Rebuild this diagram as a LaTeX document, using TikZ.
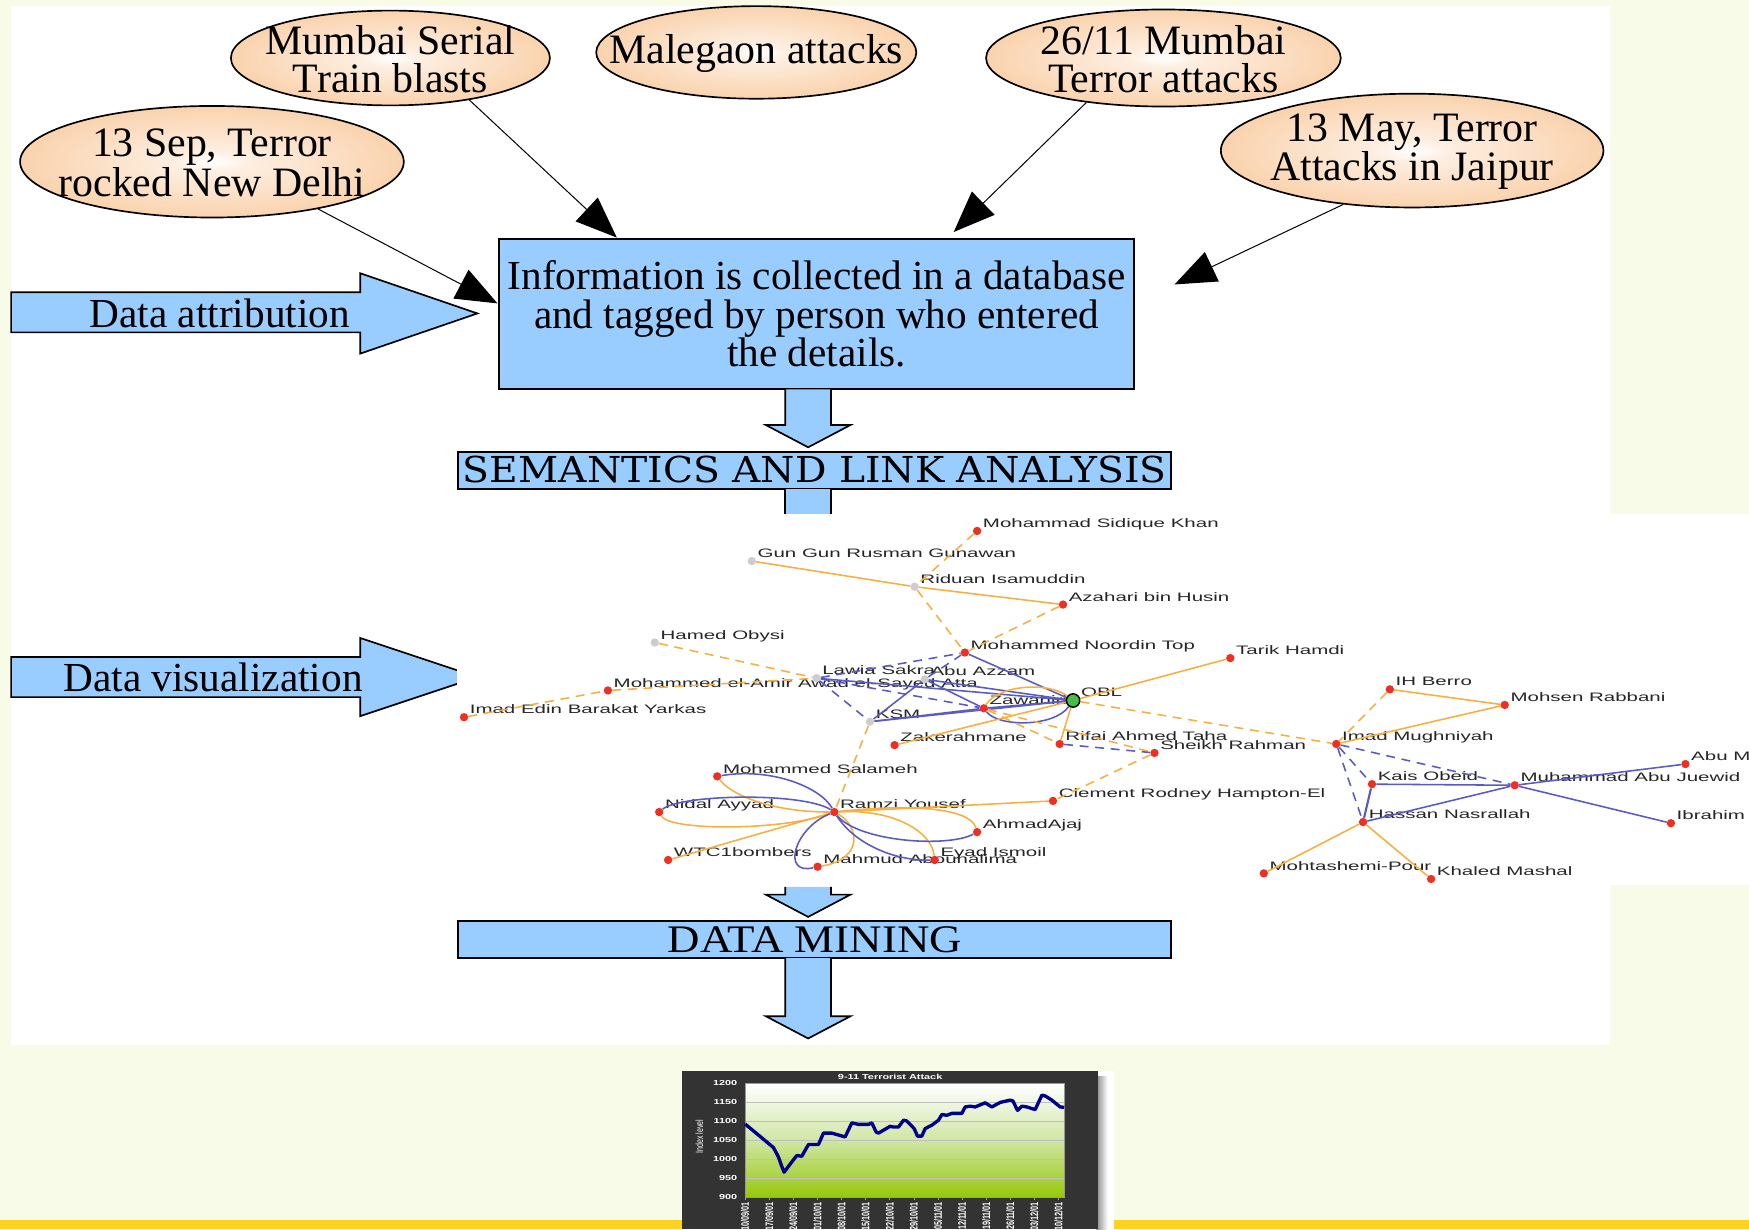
\documentclass[tikz,border=0pt]{standalone}
\usepackage{fontspec}
\usepackage{graphicx}
\setmainfont{Liberation Serif}
\newfontfamily\slabfont[FakeStretch=1.1]{DejaVu Serif}
\newfontfamily\minefont[FakeStretch=1.15]{Liberation Serif}
\newfontfamily\netfont[FakeStretch=1.67]{Liberation Sans}
\newfontfamily\chartfont[FakeStretch=1.5]{Liberation Sans}
\newfontfamily\chartplain{Liberation Sans}
\usetikzlibrary{shapes.geometric,arrows.meta,calc}

\pgfdeclarelayer{edgelayer}
\pgfdeclarelayer{dotlayer}
\pgfsetlayers{main,edgelayer,dotlayer}

\definecolor{cream}{RGB}{248,251,231}
\definecolor{barYellow}{RGB}{255,210,30}
\definecolor{boxblue}{RGB}{153,204,255}
\definecolor{peachedge}{RGB}{243,176,118}
\definecolor{peachmid}{RGB}{250,212,176}
\definecolor{peachlight}{RGB}{253,238,224}
\definecolor{netorange}{RGB}{247,176,64}
\definecolor{netblue}{RGB}{90,90,195}
\definecolor{netred}{RGB}{238,48,36}
\definecolor{netgray}{RGB}{205,205,205}
\definecolor{netgreen}{RGB}{70,190,70}
\definecolor{chartframe}{RGB}{51,51,51}
\definecolor{chartgreen}{RGB}{150,200,10}
\definecolor{chartmid}{RGB}{208,230,165}
\definecolor{chartblue}{RGB}{0,0,140}

\pgfdeclareradialshading{peachball}{\pgfpoint{0bp}{0bp}}{color(0bp)=(white); color(5bp)=(peachlight); color(24bp)=(peachmid); color(44bp)=(peachedge); color(100bp)=(peachedge)}

% downward block arrow: centre x, top y, tip y
\newcommand\blockdown[3]{%
  \fill[boxblue] (#1-20.5,#2) -- (#1+20.5,#2) -- (#1+20.5,#3-20) -- (#1+38,#3-20) -- (#1,#3) -- (#1-38,#3-20) -- (#1-20.5,#3-20) -- cycle;
  \draw[blockline] (#1+20.5,#2) -- (#1+20.5,#3-20) -- (#1+38,#3-20) -- (#1,#3) -- (#1-38,#3-20) -- (#1-20.5,#3-20) -- (#1-20.5,#2);}

% network member: style, name, x, y, label
\newcommand\person[5]{%
  \begin{pgfonlayer}{dotlayer}\node[#1] (#2) at (#3,#4) {};\end{pgfonlayer}
  \node[netlabel] (#2-label) at (#3+5,#4-3) {#5};}

\begin{document}
\begin{tikzpicture}[x=1pt,y=-1pt,
  blockline/.style={draw=black,line width=1.5pt,line join=miter},
  blockarrow/.style={fill=boxblue,draw=black,line width=1.5pt,line join=miter},
  bluebox/.style={rectangle,fill=boxblue,draw=black,line width=1.8pt},
  evell/.style={ellipse,draw=black,line width=1.5pt,shade,shading=peachball,inner sep=0},
  evtext/.style={align=center,inner sep=0,font=\fontsize{37.5}{34}\selectfont},
  bigtext/.style={inner sep=0,font=\fontsize{37}{34}\selectfont},
  evarrow/.style={draw=black,line width=0.9pt,-{Triangle[length=37pt,width=29pt]}},
  oedge/.style={draw=netorange,line width=1.4pt},
  odash/.style={draw=netorange,line width=1.4pt,dash pattern=on 8pt off 6pt},
  bedge/.style={draw=netblue,line width=1.4pt},
  bdash/.style={draw=netblue,line width=1.4pt,dash pattern=on 8pt off 6pt},
  reddot/.style={circle,fill=netred,inner sep=0,minimum size=7.5pt},
  graydot/.style={circle,fill=netgray,inner sep=0,minimum size=7.5pt},
  greendot/.style={circle,fill=netgreen,draw=black,line width=1.3pt,inner sep=0,minimum size=12pt},
  netlabel/.style={anchor=base west,inner sep=0,text=black!85,font=\netfont\fontsize{11}{11}\selectfont},
  charttext/.style={inner sep=0,text=white,font=\chartfont\bfseries\fontsize{6.5}{6.5}\selectfont},
  chartrot/.style={inner sep=0,text=white,font=\chartplain\bfseries\fontsize{6.5}{6.5}\selectfont}]

\useasboundingbox (0,0) rectangle (1568,1102);

% page background, slide bar and white panel
\fill[cream] (0,0) rectangle (1568,1102);
\fill[barYellow] (0,1094) rectangle (1568,1102);
\fill[white] (10,5) rectangle (1443,937);

% incident ellipses
\node[evell,minimum width=286pt,minimum height=85pt]  (e1) at (350,52)  {};
\node[evell,minimum width=287pt,minimum height=83pt]  (e2) at (678,47)  {};
\node[evell,minimum width=318pt,minimum height=87pt]  (e3) at (1043,52) {};
\node[evell,minimum width=344pt,minimum height=100pt] (e4) at (190,145) {};
\node[evell,minimum width=343pt,minimum height=102pt] (e5) at (1266,135) {};
\node[evtext] (e1t) at (350,53)  {Mumbai Serial\\Train blasts};
\node[evtext] (e2t) at (678,48)  {Malegaon attacks};
\node[evtext] (e3t) at (1043,53) {26/11 Mumbai\\Terror attacks};
\node[evtext] (e4t) at (190,146) {13 Sep, Terror\\rocked New Delhi};
\node[evtext] (e5t) at (1266,136) {13 May, Terror\\Attacks in Jaipur};

% collection box
\node[bluebox,minimum width=570pt,minimum height=135pt,inner sep=0,align=center,
      font=\fontsize{37}{34.5}\selectfont] (info) at (732,281.5)
  {Information is collected in a database\\and tagged by person who entered\\the details.};

\coordinate (t1) at (553,213);
\coordinate (t2) at (446,272);
\coordinate (t3) at (855,208);
\coordinate (t4) at (1053,255);
\draw[evarrow] (e1.-28)  -- (t1);
\draw[evarrow] (e4.-24)  -- (t2);
\draw[evarrow] (e3.-150) -- (t3);
\draw[evarrow] (e5.-142) -- (t4);

% data attribution arrow
\draw[blockarrow] (10,262) -- (323,262) -- (323,245) -- (428,281) -- (323,317) -- (323,298) -- (10,298) -- cycle;
\node[bigtext] (attr) at (197,281) {Data attribution};

% flow to link analysis
\blockdown{724.5}{349}{401}
\node[bluebox,minimum width=639pt,minimum height=33pt,inner sep=0,text height=23pt,text depth=0pt,
      font=\slabfont\fontsize{32}{32}\selectfont] (sem) at (730.5,421.5) {SEMANTICS AND LINK ANALYSIS};
\fill[boxblue] (704,438) rectangle (745,461);
\draw[blockline] (704,438) -- (704,461);
\draw[blockline] (745,438) -- (745,461);

% data visualization arrow, partly under the network panel
\draw[blockarrow] (10,589) -- (323,589) -- (323,572) -- (428,607) -- (323,642) -- (323,625) -- (10,625) -- cycle;
\node[bigtext] (vis) at (191,607) {Data visualization};
\fill[white] (410,461) rectangle (1568,793);

% network members
\person{reddot}{sidique}{876}{476}{Mohammad Sidique Khan}
\person{graydot}{gungun}{674}{503}{Gun Gun Rusman Gunawan}
\person{graydot}{riduan}{820}{526}{Riduan Isamuddin}
\person{reddot}{azahari}{953}{542}{Azahari bin Husin}
\person{graydot}{hamed}{587}{576}{Hamed Obysi}
\person{reddot}{noordin}{865}{585}{Mohammed Noordin Top}
\person{reddot}{tarik}{1103}{590}{Tarik Hamdi}
\person{graydot}{lawia}{732}{608}{Lawia Sakra}
\person{graydot}{abuazzam}{829}{609}{Abu Azzam}
\person{reddot}{elamir}{545}{619}{Mohammed el-Amir Awad el-Sayed Atta}
\person{reddot}{imadedin}{416}{643}{Imad Edin Barakat Yarkas}
\person{reddot}{zawahiri}{882}{635}{Zawahiri}
\person{graydot}{ksm}{780}{647}{KSM}
\person{reddot}{zaker}{802}{668}{Zakerahmane}
\person{reddot}{rifai}{950}{667}{Rifai Ahmed Taha}
\person{reddot}{sheikh}{1035}{675}{Sheikh Rahman}
\person{reddot}{imad}{1198}{667}{Imad Mughniyah}
\person{reddot}{ihberro}{1246}{618}{IH Berro}
\person{reddot}{rabbani}{1349}{632}{Mohsen Rabbani}
\person{reddot}{abum}{1511}{685}{Abu M}
\person{reddot}{juewid}{1358}{704}{Muhammad Abu Juewid}
\person{reddot}{kais}{1230}{703}{Kais Obeid}
\person{reddot}{hassan}{1222}{737}{Hassan Nasrallah}
\person{reddot}{ibrahim}{1498}{738}{Ibrahim}
\person{reddot}{mohtashemi}{1133}{783}{Mohtashemi-Pour}
\person{reddot}{khaled}{1283}{788}{Khaled Mashal}
\person{reddot}{clement}{944}{718}{Clement Rodney Hampton-El}
\person{reddot}{salameh}{643}{696}{Mohammed Salameh}
\person{reddot}{nidal}{591}{728}{Nidal Ayyad}
\person{reddot}{ramzi}{748}{728}{Ramzi Yousef}
\person{reddot}{ajaj}{876}{746}{AhmadAjaj}
\person{reddot}{wtc}{599}{771}{WTC1bombers}
\person{reddot}{mahmud}{733}{777}{Mahmud Abouhalima}
\person{reddot}{eyad}{838}{771}{Eyad Ismoil}
\begin{pgfonlayer}{dotlayer}\node[greendot] (obl) at (962,628) {};\end{pgfonlayer}
\node[netlabel] (obl-label) at (969,624) {OBL};

% network links
\begin{pgfonlayer}{edgelayer}
\draw[oedge] (gungun) -- (riduan);
\draw[oedge] (riduan) -- (azahari);
\draw[odash] (sidique) -- (riduan);
\draw[odash] (riduan) -- (noordin);
\draw[odash] (azahari) -- (noordin);
\draw[odash] (hamed) -- (lawia);
\draw[odash] (imadedin) -- (elamir);
\draw[odash] (elamir) -- (lawia);
\draw[bdash] (lawia) -- (noordin);
\draw[bdash] (abuazzam) -- (noordin);
\draw[bdash] (lawia) -- (ksm);
\draw[bdash] (lawia) -- (zawahiri);
\draw[bedge] (noordin) -- (obl);
\draw[bedge] (lawia) -- (obl);
\draw[bedge] (abuazzam) -- (obl);
\draw[bedge] (abuazzam) -- (ksm);
\draw[bedge] (abuazzam) -- (zawahiri);
\draw[bedge] (ksm) -- (zawahiri);
\draw[bedge] (ksm) -- (obl);
\draw[bedge] (zawahiri) -- (obl);
\draw[bedge] (zawahiri) .. controls (895,652) and (945,652) .. (obl);
\draw[oedge] (zawahiri) .. controls (895,614) and (940,611) .. (obl);
\draw[oedge] (zaker) -- (obl);
\draw[oedge] (obl) -- (tarik);
\draw[oedge] (obl) -- (rifai);
\draw[odash] (zawahiri) -- (sheikh);
\draw[odash] (zawahiri) -- (rifai);
\draw[bdash] (rifai) -- (sheikh);
\draw[odash] (sheikh) -- (clement);
\draw[odash] (obl) -- (imad);
\draw[odash] (ksm) -- (ramzi);
\draw[odash] (ihberro) -- (imad);
\draw[oedge] (ihberro) -- (rabbani);
\draw[oedge] (imad) -- (rabbani);
\draw[bdash] (imad) -- (kais);
\draw[bdash] (imad) -- (hassan);
\draw[bdash] (imad) -- (juewid);
\draw[bedge] (kais) -- (juewid);
\draw[bedge,line width=1.9pt] (kais) -- (hassan);
\draw[bedge] (hassan) -- (juewid);
\draw[bedge] (juewid) -- (abum);
\draw[bedge] (juewid) -- (ibrahim);
\draw[oedge] (hassan) -- (mohtashemi);
\draw[oedge] (hassan) -- (khaled);
\draw[oedge] (ramzi) -- (clement);
\draw[oedge] (ramzi) -- (wtc);
\draw[bedge] (ramzi) .. controls (735,705) and (690,688) .. (salameh);
\draw[oedge] (ramzi) .. controls (690,728) and (655,712) .. (salameh);
\draw[bedge] (ramzi) .. controls (720,710) and (610,712) .. (nidal);
\draw[oedge] (ramzi) .. controls (700,745) and (600,745) .. (nidal);
\draw[bedge] (ramzi) .. controls (712,742) and (700,785) .. (mahmud);
\draw[oedge] (ramzi) .. controls (770,740) and (775,770) .. (mahmud);
\draw[bedge] (ramzi) .. controls (765,755) and (800,772) .. (eyad);
\draw[oedge] (ramzi) .. controls (800,725) and (835,745) .. (eyad);
\draw[bedge] (ramzi) .. controls (770,755) and (850,760) .. (ajaj);
\draw[oedge] (ramzi) .. controls (820,720) and (870,725) .. (ajaj);
\end{pgfonlayer}

% flow to data mining and the result
\blockdown{724.5}{795}{822}
\node[bluebox,minimum width=639pt,minimum height=33pt,inner sep=0,text height=23pt,text depth=0pt,
      font=\minefont\fontsize{35}{35}\selectfont] (mining) at (730.5,842.5) {DATA MINING};
\blockdown{724.5}{859}{931}

% index chart
\fill[white] (611,960) rectangle (999,1102);
\shade[left color=black!45,right color=white] (983,965) rectangle (993,1102);
\fill[chartframe] (611,960) rectangle (984,1102);
\begin{scope}[x=0.2989pt,y=0.34pt,xshift=591.78pt,yshift=-1379.3pt]
  \shade[top color=white,bottom color=chartgreen,middle color=chartmid] (255,900) rectangle (1212,1200);
  \foreach \v in {950,1000,1050,1100,1150}
    \draw[black!25,line width=0.8pt] (255,\v) -- (1212,\v);
  \draw[black!40,line width=0.6pt] (255,900) rectangle (1212,1200);
  \foreach \i in {0,...,13}
    \draw[black!40,line width=0.6pt] (255+\i*72.3,900) -- (255+\i*72.3,892);
  \draw[chartblue,line width=3pt,line join=round] plot coordinates {
    (255,1093) (340,1031) (355,1006) (365,981) (372,966) (395,993) (410,1010) (425,1008)
    (445,1039) (475,1039) (490,1069) (515,1069) (555,1059) (575,1096) (595,1092) (625,1092)
    (635,1096) (648,1072) (655,1069) (690,1087) (700,1085) (715,1085) (730,1103) (740,1101)
    (762,1081) (772,1061) (785,1061) (795,1081) (815,1090) (835,1103) (845,1118) (860,1116)
    (875,1121) (905,1121) (915,1138) (930,1140) (945,1138) (975,1149) (995,1138) (1020,1150)
    (1050,1156) (1058,1154) (1072,1129) (1085,1140) (1100,1138) (1125,1131) (1145,1169)
    (1155,1167) (1175,1156) (1190,1145) (1200,1138) (1212,1137)};
  \node[charttext] (ctitle) at (690,1217) {9-11 Terrorist Attack};
  \foreach \v in {900,950,1000,1050,1100,1150,1200}
    \node[charttext,anchor=east] (ylab\v) at (232,\v) {\v};
  \node[chartrot,rotate=90,font=\chartplain\fontsize{6.3}{6.3}\selectfont] (yaxis) at (118,1060)
    {\scalebox{1}[1.5]{Index level}};
  \foreach \i/\dd/\mm in {0/10/09,1/17/09,2/24/09,3/01/10,4/08/10,5/15/10,6/22/10,
                          7/29/10,8/05/11,9/12/11,10/19/11,11/26/11,12/03/12,13/10/12}
    \node[chartrot,rotate=90,anchor=east] (date\i) at (255+\i*72.3,888)
      {\scalebox{1}[1.5]{\dd/\mm/01}};
\end{scope}
\end{tikzpicture}
\end{document}
